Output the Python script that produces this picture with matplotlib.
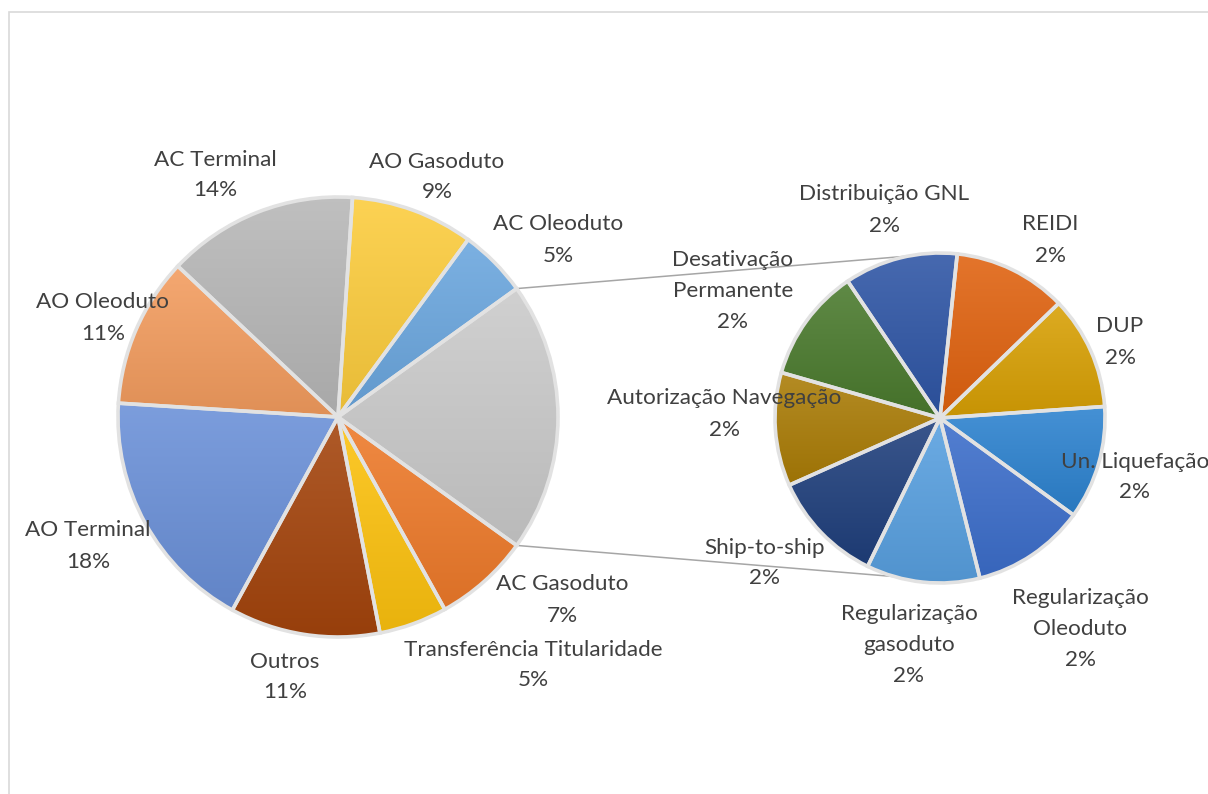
import numpy as np
import matplotlib
matplotlib.use("Agg")
import matplotlib.pyplot as plt
from matplotlib.colors import to_rgb
from matplotlib.patches import Rectangle

# ---------------- data ----------------
main_names = ['AC Gasoduto', 'Transferência Titularidade', 'Outros', 'AO Terminal',
              'AO Oleoduto', 'AC Terminal', 'AO Gasoduto', 'AC Oleoduto']
main_values = [7, 5, 11, 18, 11, 14, 9, 5]
main_colors = ['#EE7A2A', '#FDC20E', '#A4440C', '#6A90D8',
               '#F39C5E', '#B7B7B7', '#FCCC3C', '#6AA6DE']

sec_names = ['Distribuição GNL', 'REIDI', 'DUP', 'Un. Liquefação', 'Regularização\nOleoduto',
             'Regularização\ngasoduto', 'Ship-to-ship', 'Autorização Navegação',
             'Desativação\nPermanente']
sec_values = [2.2, 2.2, 2.2, 2.2, 2.2, 2.2, 2.2, 2.2, 2.2]
sec_colors = ['#2E55A5', '#E0620F', '#D8A004', '#2C82CF', '#3C6ECB',
              '#58A0E0', '#1F3F7C', '#AA7C06', '#4A7A2D']
other_color = '#CACACA'

# ---------------- layout (pixels, y downward) ----------------
W, H = 1208, 794
C1, R1 = (338, 417), 220
C2, R2 = (940, 418), 165
sec_start = 124
conn_angles = (101, 254)

main_label_pos = [(562, 600), (533, 665), (285, 677), (88, 546), (103, 318),
                  (215, 175), (437, 177), (558, 240)]
sec_label_pos = [(884, 210), (1050, 240), (1120, 342), (1135, 477), (1080, 629),
                 (909, 645), (765, 563), (724, 414), (733, 291)]
line_step = 31

fig = plt.figure(figsize=(W / 100, H / 100), dpi=100)
ax = fig.add_axes([0, 0, 1, 1])


def d(p):
    return (p[0], H - p[1])


def shade(c, f):
    c = np.array(to_rgb(c))
    return c + (1 - c) * f if f > 0 else c * (1 + f)


def add_gradient(wedges, colors):
    for w, c in zip(wedges, colors):
        v = w.get_path().vertices
        x0, x1 = v[:, 0].min(), v[:, 0].max()
        y0, y1 = v[:, 1].min(), v[:, 1].max()
        top, bot = shade(c, 0.12), shade(c, -0.08)
        t = np.linspace(0, 1, 128)[:, None, None]
        img = bot[None, None, :] + (top - bot)[None, None, :] * t
        im = ax.imshow(img, extent=[x0, x1, y0, y1], origin='lower', aspect='auto',
                       zorder=2, interpolation='bilinear')
        im.set_clip_path(w)
        w.set_facecolor('none')
        w.set_zorder(3)


total = sum(main_values) + sum(sec_values)
other_val = sum(sec_values)
vals1 = [other_val] + main_values
cols1 = [other_color] + main_colors
start1 = 180 * other_val / total

wp = dict(edgecolor='#E2E2E2', linewidth=2.6)
w1, _ = ax.pie(vals1, colors=cols1, startangle=start1, counterclock=False,
               center=d(C1), radius=R1, wedgeprops=wp, frame=True)
w2, _ = ax.pie(sec_values, colors=sec_colors, startangle=sec_start, counterclock=False,
               center=d(C2), radius=R2, wedgeprops=wp, frame=True)
add_gradient(w1, cols1)
add_gradient(w2, sec_colors)

# connector lines
c1 = np.array(d(C1), float)
c2 = np.array(d(C2), float)
a_top, a_bot = np.deg2rad(start1), np.deg2rad(-start1)
p_top = c1 + R1 * np.array([np.cos(a_top), np.sin(a_top)])
p_bot = c1 + R1 * np.array([np.cos(a_bot), np.sin(a_bot)])
q_top = c2 + R2 * np.array([np.cos(np.deg2rad(conn_angles[0])), np.sin(np.deg2rad(conn_angles[0]))])
q_bot = c2 + R2 * np.array([np.cos(np.deg2rad(conn_angles[1])), np.sin(np.deg2rad(conn_angles[1]))])
for p, q in ((p_top, q_top), (p_bot, q_bot)):
    ax.plot([p[0], q[0]], [p[1], q[1]], color='#A6A6A6', lw=1.1, zorder=1.5,
            solid_capstyle='butt')

# labels
font = dict(family=['Lato', 'DejaVu Sans'], fontsize=16.2, color='#404040')


def label(name, v, pos):
    lines = name.split('\n') + ['%d%%' % round(v / total * 100)]
    n = len(lines)
    for i, ln in enumerate(lines):
        y = pos[1] + (i - (n - 1) / 2) * line_step
        ax.text(pos[0], H - y, ln, ha='center', va='center', zorder=5, **font)


for nm, v, pos in zip(main_names, main_values, main_label_pos):
    label(nm, v, pos)
for nm, v, pos in zip(sec_names, sec_values, sec_label_pos):
    label(nm, v, pos)

# chart frame (open to right/bottom like reference crop)
ax.add_patch(Rectangle((9, -20), W + 40, H - 12 + 20, fill=False,
                       edgecolor='#D9D9D9', lw=1.2, zorder=0))

ax.set_xlim(0, W)
ax.set_ylim(0, H)
ax.set_aspect('equal')
ax.axis('off')
fig.savefig('out.png', dpi=100, facecolor='white')
